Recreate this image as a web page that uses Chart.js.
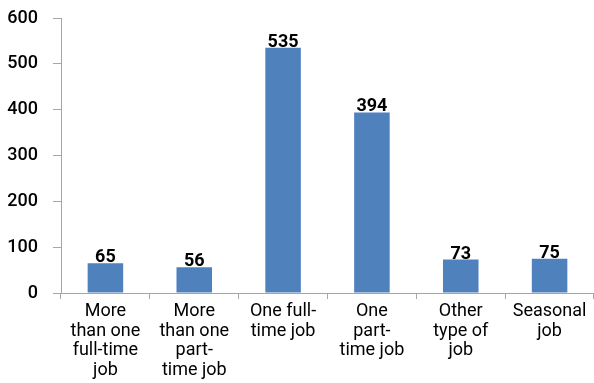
<!DOCTYPE html>
<html><head><meta charset="utf-8">
<script src="https://cdn.jsdelivr.net/npm/chart.js@4/dist/chart.umd.min.js"></script>
<style>html,body{margin:0;padding:0;background:#fff}#wrap{width:594px;height:383px}</style>
</head><body><div id="wrap"><canvas id="c"></canvas></div>
<script>
const categories = [
  ['More', 'than one', 'full-time', 'job'],
  ['More', 'than one', 'part-', 'time job'],
  ['One full-', 'time job'],
  ['One', 'part-', 'time job'],
  ['Other', 'type of', 'job'],
  ['Seasonal', 'job']
];
const values = [65, 56, 535, 394, 73, 75];
const yTicks = [0, 100, 200, 300, 400, 500, 600];

const barLabels = {
  id: 'barLabels',
  afterDatasetsDraw(chart) {
    const ctx = chart.ctx;
    const meta = chart.getDatasetMeta(0);
    ctx.save();
    ctx.font = 'bold 18px Roboto';
    ctx.fillStyle = '#000';
    ctx.textAlign = 'center';
    ctx.textBaseline = 'alphabetic';
    meta.data.forEach((bar, i) => {
      ctx.fillText(String(values[i]), bar.x, bar.y - 1);
    });
    ctx.restore();
  }
};

new Chart(document.getElementById('c'), {
  type: 'bar',
  data: {
    labels: categories,
    datasets: [{ data: values, backgroundColor: '#4F81BD', barPercentage: 0.8, categoryPercentage: 0.5 }]
  },
  options: {
    responsive: true,
    maintainAspectRatio: false,
    animation: false,
    layout: { padding: { top: 18, right: 0, left: 0, bottom: 0 } },
    plugins: { legend: { display: false }, tooltip: { enabled: false } },
    scales: {
      x: {
        grid: { display: true, drawOnChartArea: false, drawTicks: true, tickLength: 6, color: '#a6a6a6', offset: true },
        border: { color: '#a6a6a6' },
        ticks: { color: '#000', font: { family: 'Roboto', size: 18, lineHeight: 1.08 }, padding: 3, maxRotation: 0, autoSkip: false },
        afterFit(s) { s.height = 90; s.paddingLeft = 0; s.paddingRight = 0; }
      },
      y: {
        min: 0, max: 600,
        afterBuildTicks(s) { s.ticks = yTicks.map(v => ({ value: v })); },
        grid: { display: true, drawOnChartArea: false, drawTicks: true, tickLength: 8, color: '#a6a6a6' },
        border: { color: '#a6a6a6' },
        ticks: { color: '#000', font: { family: 'Roboto', size: 18, weight: '500' }, padding: 15 },
        afterFit(s) { s.width = 61; s.paddingTop = 0; s.paddingBottom = 0; }
      }
    }
  },
  plugins: [barLabels]
});
</script></body></html>
